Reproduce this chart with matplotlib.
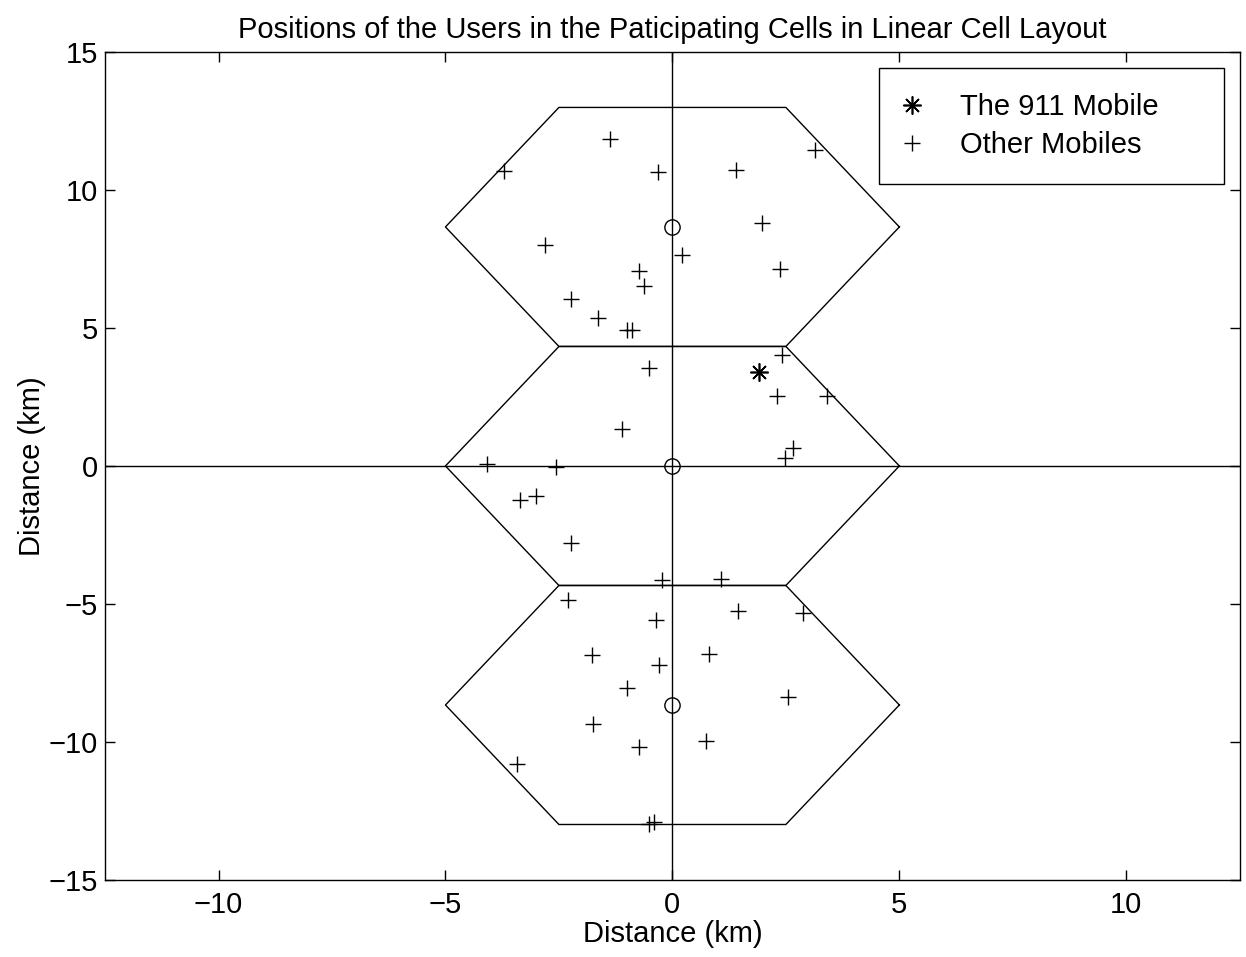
import numpy as np
import matplotlib.pyplot as plt

plt.rcParams["font.family"] = ["Liberation Sans", "DejaVu Sans"]

# base stations (cell centres) and cell radius
cell_x = [0.0, 0.0, 0.0]
cell_y = [8.66, 0.0, -8.66]
cell_radius = 5.0

# the 911 mobile
e911_x = [1.91]
e911_y = [3.41]

# other mobiles
other_x = [-3.71, -1.38, -0.31, 1.41, 3.14, 1.98, -2.81, 0.22, -0.73, 2.37,
           -0.62, -2.24, -1.65, -1.01, -0.88, 2.42,
           -0.51, 2.31, 3.41, -1.12, 2.66, 2.48, -4.09, -2.57, -3.01, -3.36,
           -2.24, -0.22, 1.08,
           -2.29, -0.37, 1.45, 2.88, -1.78, 0.81, -0.29, -0.99, 2.55, -1.76,
           -0.73, 0.73, -3.43, -0.51, -0.40]
other_y = [10.69, 11.85, 10.65, 10.72, 11.45, 8.80, 8.01, 7.64, 7.07, 7.14,
           6.52, 6.05, 5.36, 4.93, 4.93, 4.02,
           3.55, 2.54, 2.54, 1.34, 0.65, 0.29, 0.07, -0.04, -1.09, -1.23,
           -2.79, -4.13, -4.09,
           -4.86, -5.58, -5.25, -5.33, -6.85, -6.81, -7.21, -8.04, -8.37, -9.35,
           -10.18, -9.96, -10.80, -12.97, -12.90]

FS = 21

fig = plt.figure(figsize=(12.46, 9.57), dpi=100)
ax = fig.add_axes([0.0843, 0.0805, 0.9107, 0.8652])

# trailing spaces give the wider right margin of the original legend box
ax.plot(e911_x, e911_y, linestyle="none", marker=(8, 2, 0), markersize=13,
        color="black", markeredgewidth=1.2, label="The 911 Mobile     ")
ax.plot(other_x, other_y, linestyle="none", marker="+", markersize=12,
        color="black", markeredgewidth=1.0, label="Other Mobiles")

# hexagonal cells
ang = np.radians(np.arange(0, 420, 60))
for cx, cy in zip(cell_x, cell_y):
    ax.plot(cx + cell_radius * np.cos(ang), cy + cell_radius * np.sin(ang),
            color="black", linewidth=1.0)
ax.plot(cell_x, cell_y, linestyle="none", marker="o", markersize=11,
        markerfacecolor="none", markeredgecolor="black", markeredgewidth=1.0)

ax.axhline(0, color="black", linewidth=1.0)
ax.axvline(0, color="black", linewidth=1.0)

ax.set_xlim(-12.5, 12.5)
ax.set_ylim(-15, 15)
ax.set_xticks([-10, -5, 0, 5, 10])
ax.set_yticks([-15, -10, -5, 0, 5, 10, 15])
ax.set_xticklabels(["\u221210", "\u22125", "0", "5", "10"])
ax.set_yticklabels(["\u221215", "\u221210", "\u22125", "0", "5", "10", "15"])
ax.tick_params(direction="in", length=7, width=1.0, labelsize=FS,
               top=True, right=True)
ax.tick_params(axis="x", pad=8)
ax.tick_params(axis="y", pad=5)
for s in ax.spines.values():
    s.set_linewidth(1.0)

ax.set_xlabel("Distance (km)", fontsize=FS, labelpad=1)
ax.set_ylabel("Distance (km)", fontsize=FS, labelpad=2)
ax.set_title("Positions of the Users in the Paticipating Cells in Linear Cell Layout",
             fontsize=FS, pad=10)

leg = ax.legend(loc="upper right", fontsize=FS, fancybox=False, framealpha=1,
                edgecolor="black", borderaxespad=0.55, borderpad=0.85,
                handletextpad=1.35, handlelength=0.55, labelspacing=0.35)
leg.get_frame().set_linewidth(1.0)

fig.savefig("out.png")
